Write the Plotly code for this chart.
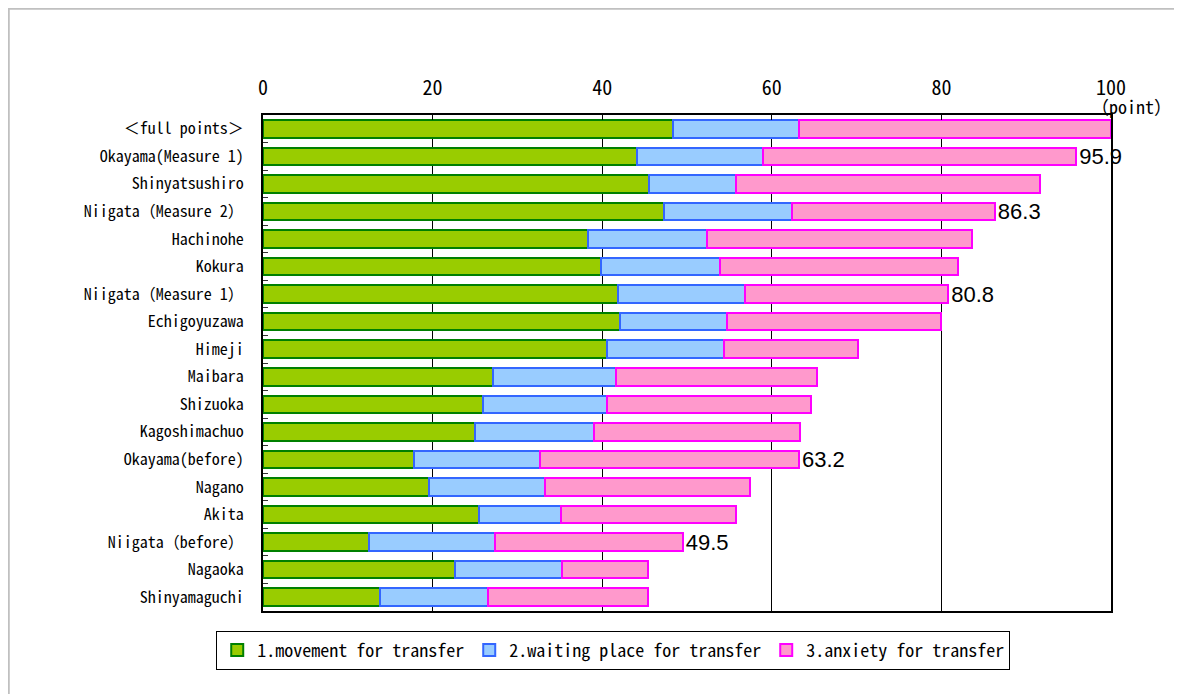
"""Stacked horizontal bars: transfer convenience points by station."""

import plotly.graph_objects as go

FONT = "Noto Sans Mono CJK JP, DejaVu Sans Mono, monospace"

stations = [
    "＜full points＞",
    "Okayama(Measure 1)",
    "Shinyatsushiro",
    "Niigata（Measure 2）",
    "Hachinohe",
    "Kokura",
    "Niigata（Measure 1）",
    "Echigoyuzawa",
    "Himeji",
    "Maibara",
    "Shizuoka",
    "Kagoshimachuo",
    "Okayama(before)",
    "Nagano",
    "Akita",
    "Niigata（before）",
    "Nagaoka",
    "Shinyamaguchi",
]
movement = [48.4, 44.1, 45.5, 47.3, 38.3, 39.9, 41.9, 42.1, 40.6,
            27.1, 26.0, 25.0, 17.8, 19.6, 25.5, 12.5, 22.6, 13.8]
waiting = [14.8, 14.9, 10.3, 15.1, 14.0, 14.0, 14.9, 12.6, 13.8,
           14.5, 14.6, 14.0, 14.9, 13.6, 9.6, 14.9, 12.7, 12.7]
anxiety = [36.8, 36.9, 35.8, 23.9, 31.3, 28.1, 24.0, 25.2, 15.8,
           23.7, 24.0, 24.3, 30.5, 24.2, 20.7, 22.1, 10.1, 18.9]
total_labels = ["", "95.9", "", "86.3", "", "", "80.8", "", "", "",
                "", "", "63.2", "", "", "49.5", "", ""]

series = [
    ("1.movement for transfer", movement, "#99cc00", "#008000"),
    ("2.waiting place for transfer", waiting, "#99ccff", "#3366ff"),
    ("3.anxiety for transfer", anxiety, "#ff99cc", "#ff00ff"),
]

fig = go.Figure()
for i, (name, vals, fill, edge) in enumerate(series):
    last = i == len(series) - 1
    fig.add_trace(
        go.Bar(
            x=vals,
            y=stations,
            orientation="h",
            name=name,
            marker=dict(color=fill, line=dict(color=edge, width=2)),
            text=total_labels if last else None,
            textposition="outside" if last else "none",
            textfont=dict(family="Liberation Sans, Arial", size=22, color="black"),
            constraintext="none",
            cliponaxis=False,
        )
    )

fig.add_annotation(
    x=100, y=1, xref="x", yref="paper",
    text="（point）", showarrow=False,
    xanchor="center", yanchor="bottom", xshift=20, yshift=-6,
    font=dict(family=FONT, size=18, color="black"),
)

# light grey frame around the whole chart (page body adds an 8px offset)
fig.add_shape(
    type="rect", xref="paper", yref="paper",
    x0=-0.2998, x1=1.1, y0=-0.2, y1=1.214,
    line=dict(color="#c0c0c0", width=2),
)

fig.update_layout(
    barmode="stack",
    bargap=0.364,
    width=1174,
    height=686,
    margin=dict(l=255, r=71, t=107, b=83),
    paper_bgcolor="white",
    plot_bgcolor="white",
    font=dict(family=FONT, size=16, color="black"),
    showlegend=True,
    legend=dict(
        orientation="h",
        x=0.413, xanchor="center",
        y=-0.04, yanchor="top",
        bordercolor="black", borderwidth=1,
        font=dict(family=FONT, size=18),
        traceorder="normal",
    ),
)
fig.update_xaxes(
    side="top",
    range=[0, 100],
    tickmode="linear", tick0=0, dtick=20,
    ticks="inside", ticklen=5, tickcolor="black",
    ticklabelstandoff=10,
    tickfont=dict(family=FONT, size=20),
    showgrid=True, gridcolor="black", gridwidth=1,
    showline=True, linecolor="black", linewidth=2,
    mirror=True,
    zeroline=False,
)
fig.update_yaxes(
    type="category",
    categoryorder="array", categoryarray=stations,
    autorange="reversed",
    ticks="inside", tickson="boundaries", ticklen=5, tickcolor="#333333",
    ticklabelstandoff=14,
    tickfont=dict(family=FONT, size=16),
    showgrid=False,
    showline=True, linecolor="black", linewidth=2,
    mirror=True,
)

fig.write_html("out.html")
